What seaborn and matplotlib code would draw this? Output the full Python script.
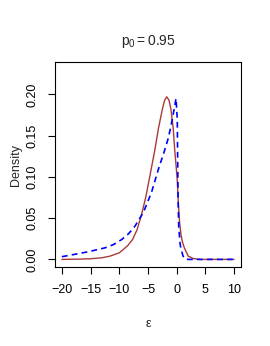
import numpy as np
import pandas as pd
import matplotlib
matplotlib.use("Agg")
import matplotlib.pyplot as plt
import seaborn as sns

# values
eps_red = [-20, -17, -15, -13, -11.6, -10, -9.3, -8.5, -7.7, -6.9, -6.1, -5.4, -4.7,
           -3.8, -3.2, -2.5, -2.1, -1.74, -1.35, -1.0, -0.6, -0.35, -0.1, 0.1,
           0.29, 0.5, 0.75, 1.0, 1.33, 2.0, 2.9, 4, 10]
dens_red = [0.0, 0.0003, 0.0008, 0.002, 0.004, 0.008, 0.012, 0.017, 0.024, 0.036,
            0.055, 0.075, 0.100, 0.133, 0.158, 0.182, 0.193, 0.197, 0.193, 0.182,
            0.158, 0.133, 0.113, 0.095, 0.068, 0.045, 0.030, 0.021, 0.014,
            0.004, 0.001, 0.0, 0.0]

eps_blue = [-20, -17.5, -15.4, -12.5, -11, -9.6, -8.4, -7.3, -5.8, -4.4, -3.2, -2.2,
            -1.46, -0.9, -0.5, -0.12, 0.1, 0.17, 0.25, 0.35, 0.6, 0.87, 1.1, 1.5, 2, 10]
dens_blue = [0.0033, 0.0065, 0.0093, 0.014, 0.018, 0.024, 0.031, 0.040, 0.057, 0.081,
             0.109, 0.130, 0.147, 0.165, 0.180, 0.195, 0.17, 0.12, 0.07, 0.04, 0.018,
             0.010, 0.004, 0.0005, 0.0, 0.0]

x_ticks = [-20, -15, -10, -5, 0, 5, 10]
y_ticks = [0.00, 0.05, 0.10, 0.15, 0.20]

sns.set_style("ticks")
plt.rcParams['font.family'] = ['Liberation Sans', 'DejaVu Sans']
plt.rcParams['mathtext.fontset'] = 'custom'
plt.rcParams['mathtext.rm'] = 'Liberation Sans'
plt.rcParams['mathtext.it'] = 'Liberation Sans'

red = pd.DataFrame({"eps": eps_red, "dens": dens_red})
blue = pd.DataFrame({"eps": eps_blue, "dens": dens_blue})

fig = plt.figure(figsize=(2.7, 3.46), dpi=100)
ax = fig.add_axes([55 / 270, 1 - 267 / 346, 186 / 270, 205 / 346])

sns.lineplot(data=red, x="eps", y="dens", ax=ax, color="#A93A36", linewidth=1.0,
             solid_joinstyle="round")
sns.lineplot(data=blue, x="eps", y="dens", ax=ax, color="blue", linewidth=1.2,
             linestyle=(0, (3.5, 2.5)))

ax.set_xlim(-21.2, 11.2)
ax.set_ylim(-0.0092, 0.2392)
ax.set_xticks(x_ticks)
ax.set_xticklabels(["\u221220", "\u221215", "\u221210", "\u22125", "0", "5", "10"])
ax.set_yticks(y_ticks)
ax.set_yticklabels([f"{v:.2f}" for v in y_ticks], rotation=90, va="center")
ax.tick_params(direction="out", length=5, width=0.8, colors="black", labelsize=9,
               pad=7)
for s in ax.spines.values():
    s.set_visible(True)
    s.set_color("black")
    s.set_linewidth(0.8)

ax.set_xlabel("\u03b5", fontsize=9, labelpad=16)
ax.set_ylabel("Density", fontsize=9, labelpad=3)
fig.text(148 / 270, 1 - 42 / 346, r"$\mathregular{p_0 = 0.95}$", fontsize=10,
         ha="center", va="center")

fig.savefig("out.png", dpi=100)
